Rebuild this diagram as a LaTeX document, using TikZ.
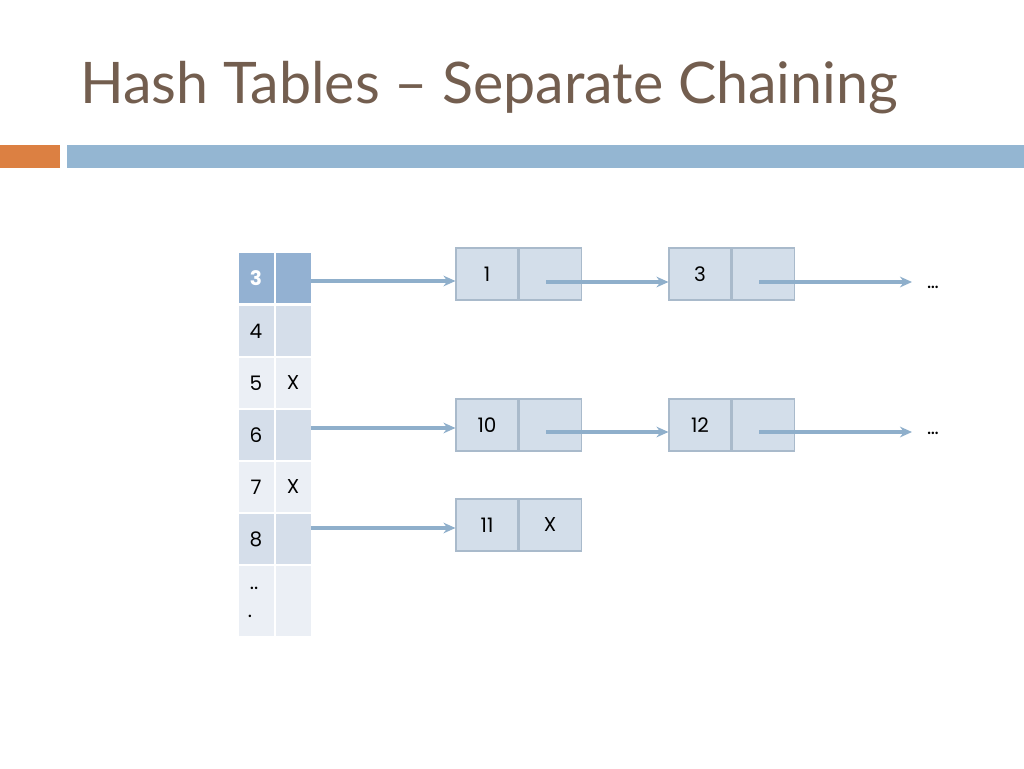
\documentclass[tikz,border=0pt]{standalone}
\usepackage{fontspec}
\setmainfont{Poppins}
\newfontfamily\titlefont{Lato}
\usetikzlibrary{positioning,arrows.meta}
\definecolor{titlebrown}{HTML}{735E4F}
\definecolor{barorange}{HTML}{DC8042}
\definecolor{barblue}{HTML}{94B6D2}
\definecolor{headblue}{HTML}{93B1D2}
\definecolor{rowdark}{HTML}{D5DEEA}
\definecolor{rowlight}{HTML}{EBEFF5}
\definecolor{boxfill}{HTML}{D3DEEA}
\definecolor{boxline}{HTML}{A9BACB}
\definecolor{arrowblue}{HTML}{8FAFCB}
\tikzset{
  cell/.style={minimum width=35pt*0.75, minimum height=50pt*0.75, inner sep=0pt, font=\fontsize{15}{15}\selectfont},
  keybox/.style={draw=boxline, fill=boxfill, line width=0.8pt, minimum width=62*0.75pt, minimum height=52*0.75pt, inner sep=0pt, font=\fontsize{15}{15}\selectfont},
  link/.style={draw=arrowblue, line width=2.5pt, -{Stealth[length=9pt,width=8pt]}}
}
\begin{document}
\begin{tikzpicture}[x=0.75pt,y=-0.75pt]
  \useasboundingbox (0,0) rectangle (1024,768);
  % title and bars
  \node[anchor=base west, text=titlebrown, inner sep=0pt, font=\titlefont\fontsize{43}{43}\selectfont] (title) at (80,103) {Hash Tables – Separate Chaining};
  \fill[barorange] (0,145) rectangle (60,168);
  \fill[barblue] (67,145) rectangle (1024,168);
  % table
  \node[cell, fill=headblue, text=white, font=\bfseries\fontsize{15}{15}\selectfont] (k3) at (256,278) {3};
  \node[cell, fill=headblue] (v3) at (293,278) {};
  \foreach \k/\v/\y/\c in {4//331/rowdark, 5/X/383/rowlight, 6//435/rowdark, 7/X/487/rowlight, 8//539/rowdark} {
    \node[cell, fill=\c] (k\k) at (256,\y) {\k};
    \node[cell, fill=\c] (v\k) at (293,\y) {\v};
  }
  \node[cell, fill=rowlight, minimum height=70*0.75pt] (kdots) at (256,601) {};
  \node[cell, fill=rowlight, minimum height=70*0.75pt] (vdots) at (293,601) {};
  \node[font=\fontsize{15}{15}\selectfont, inner sep=0pt] (dotsa) at (254,588) {..};
  \node[font=\fontsize{15}{15}\selectfont, inner sep=0pt] (dotsb) at (250,616) {.};
  % chain nodes
  \node[keybox] (n1) at (487,274) {1};
  \node[keybox, right=0pt of n1] (p1) {};
  \node[keybox] (n3) at (700,274) {3};
  \node[keybox, right=0pt of n3] (p3) {};
  \node[keybox] (n10) at (487,425) {10};
  \node[keybox, right=0pt of n10] (p10) {};
  \node[keybox] (n12) at (700,425) {12};
  \node[keybox, right=0pt of n12] (p12) {};
  \node[keybox] (n11) at (487,525) {11};
  \node[keybox, right=0pt of n11] (p11) {X};
  \node[font=\fontsize{15}{15}\selectfont] (more1) at (933,287) {…};
  \node[font=\fontsize{15}{15}\selectfont] (more2) at (933,433) {…};
  % links
  \draw[link] (v3.east |- 0,281) -- (n1.west |- 0,281);
  \draw[link] ([xshift=-4pt*0.75]p1.center |- 0,282) -- (n3.west |- 0,282);
  \draw[link] ([xshift=-4pt*0.75]p3.center |- 0,282) -- (912,282);
  \draw[link] (v6.east |- 0,428) -- (n10.west |- 0,428);
  \draw[link] ([xshift=-4pt*0.75]p10.center |- 0,432) -- (n12.west |- 0,432);
  \draw[link] ([xshift=-4pt*0.75]p12.center |- 0,432) -- (912,432);
  \draw[link] (v8.east |- 0,528) -- (n11.west |- 0,528);
\end{tikzpicture}
\end{document}
